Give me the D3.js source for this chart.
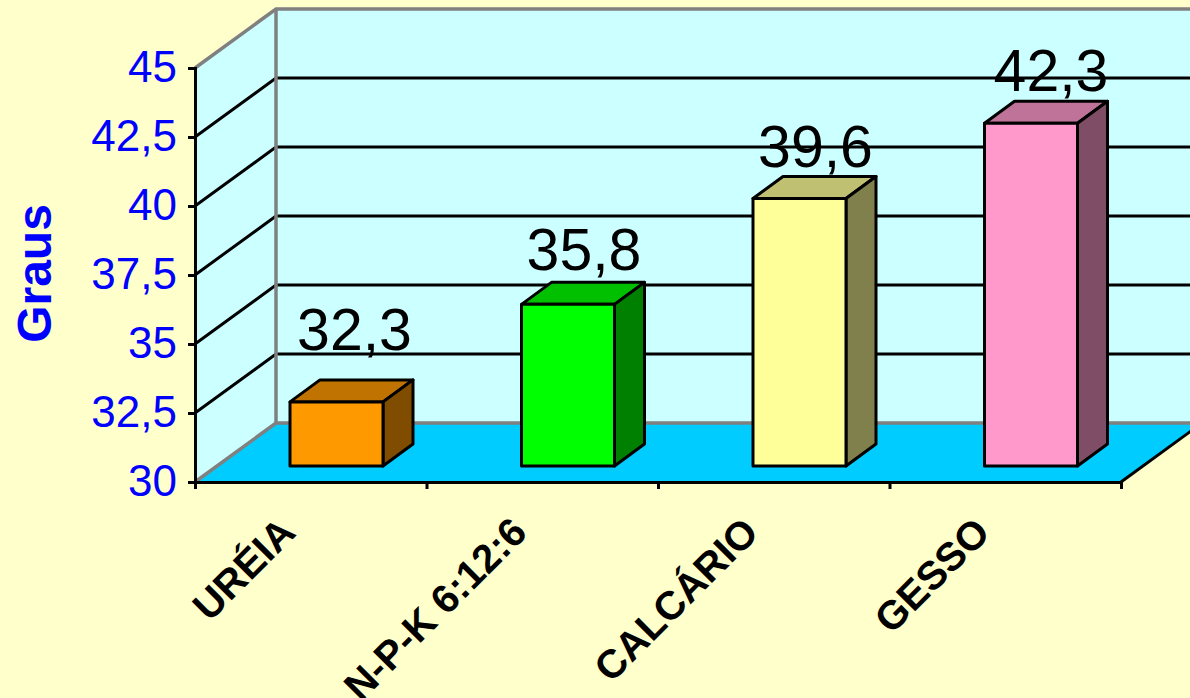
<!DOCTYPE html>
<html><head><meta charset="utf-8">
<script src="https://cdn.jsdelivr.net/npm/d3@7"></script>
<style>html,body{margin:0;padding:0;background:#FFFFCC;overflow:hidden}svg{display:block}text{font-family:"Liberation Sans",Arial,sans-serif}</style>
</head><body><svg id="c" width="1190" height="698"></svg>
<script>
const categories = ["URÉIA","N-P-K 6:12:6","CALCÁRIO","GESSO"];
const values = [32.3,35.8,39.6,42.3];
const valueLabels = ["32,3","35,8","39,6","42,3"];
const frontColors = ["#FF9900","#00FF00","#FFFF99","#FF99CC"];
const topColors = ["#C07300","#00C000","#C0C073","#C07399"];
const sideColors = ["#804D00","#008000","#80804D","#804D66"];
const yTicks = [30,32.5,35,37.5,40,42.5,45];
const yTitle = "Graus";

const svg = d3.select("#c");
const left=195,right=1121,front=482,top0=68,dx=81,dy=-59;
const y = d3.scaleLinear().domain([30,45]).range([front,top0]);
const x = d3.scaleBand().domain(categories).range([left,right]);
const yBar = d3.scaleLinear().domain([30,45]).range([466,48]);
const bw=93, bdx=30, bdy=-22;
const W=right+dx;

// floor + walls
svg.append("polygon").attr("points",[[left,front],[left+dx,front+dy],[W,front+dy],[right,front]].join(" ")).attr("fill","#00CCFF");
svg.append("polygon").attr("points",[[left,front],[left,top0],[left+dx,top0+dy],[left+dx,front+dy]].join(" ")).attr("fill","#CCFFFF");
svg.append("rect").attr("x",left+dx).attr("y",top0+dy).attr("width",W-left-dx).attr("height",front-top0).attr("fill","#CCFFFF");
// gridlines
yTicks.slice(1,-1).forEach(v=>{
  svg.append("polyline").attr("fill","none").attr("stroke","#000").attr("stroke-width",3)
    .attr("points",[[left,y(v)],[left+dx,y(v)+dy],[W,y(v)+dy]].join(" "));
});
// gray wall edges
svg.append("polyline").attr("fill","none").attr("stroke","#808080").attr("stroke-width",3.5)
  .attr("points",[[left,top0],[left+dx,top0+dy],[W,top0+dy]].join(" "));
svg.append("polyline").attr("fill","none").attr("stroke","#808080").attr("stroke-width",3.5)
  .attr("points",[[left,front],[left+dx,front+dy],[W,front+dy]].join(" "));
svg.append("line").attr("x1",left+dx).attr("x2",left+dx).attr("y1",top0+dy).attr("y2",front+dy).attr("stroke","#808080").attr("stroke-width",3.5);
// floor front-right edge
svg.append("line").attr("x1",right).attr("y1",front).attr("x2",right+dx).attr("y2",front+dy).attr("stroke","#000").attr("stroke-width",3);

// axes
const axL = svg.append("g").attr("transform",`translate(${left},0)`)
  .call(d3.axisLeft(y).tickValues(yTicks).tickSize(7).tickPadding(11).tickFormat(d=>String(d).replace(".",",")));
axL.selectAll("path,line").attr("stroke","#000").attr("stroke-width",3);
axL.selectAll("text").attr("fill","#0000FF").attr("font-size",44).attr("font-family",'"Liberation Sans",Arial,sans-serif').attr("dy","0.3em");
const axB = svg.append("g").attr("transform",`translate(0,${front})`)
  .call(d3.axisBottom(d3.scaleLinear().domain([0,4]).range([left,right])).tickValues([0,1,2,3,4]).tickSize(7).tickFormat(""));
axB.selectAll("path,line").attr("stroke","#000").attr("stroke-width",3);

// bars
categories.forEach((c,i)=>{
  const x0=x(c)+95, x1=x0+bw, yb=466, yt=yBar(values[i]);
  const g=svg.append("g").attr("stroke","#000").attr("stroke-width",3).attr("stroke-linejoin","round");
  g.append("polygon").attr("points",[[x0,yt],[x1,yt],[x1+bdx,yt+bdy],[x0+bdx,yt+bdy]].join(" ")).attr("fill",topColors[i]);
  g.append("polygon").attr("points",[[x1,yt],[x1+bdx,yt+bdy],[x1+bdx,yb+bdy],[x1,yb]].join(" ")).attr("fill",sideColors[i]);
  g.append("rect").attr("x",x0).attr("y",yt).attr("width",bw).attr("height",yb-yt).attr("fill",frontColors[i]);
  svg.append("text").attr("x",x0+bw/2+ [18,16,16,20][i]).attr("y",yt+bdy-[30,12,9,10][i]).attr("text-anchor","middle").attr("font-size",59).attr("fill","#000").text(valueLabels[i]);
});

// category labels
categories.forEach((c,i)=>{
  const cx=x(c)+x.bandwidth()/2;
  svg.append("text").attr("transform",`translate(${cx-36},${front+30}) rotate(-45)`).attr("text-anchor","end").attr("dy","0.8em")
    .attr("font-size",40).attr("font-weight","bold").attr("fill","#000").text(c);
});
// y title
svg.append("text").attr("transform","translate(51,273.5) rotate(-90)").attr("text-anchor","middle")
  .attr("font-size",48).attr("font-weight","bold").attr("fill","#0000FF").text(yTitle);
</script></body></html>
